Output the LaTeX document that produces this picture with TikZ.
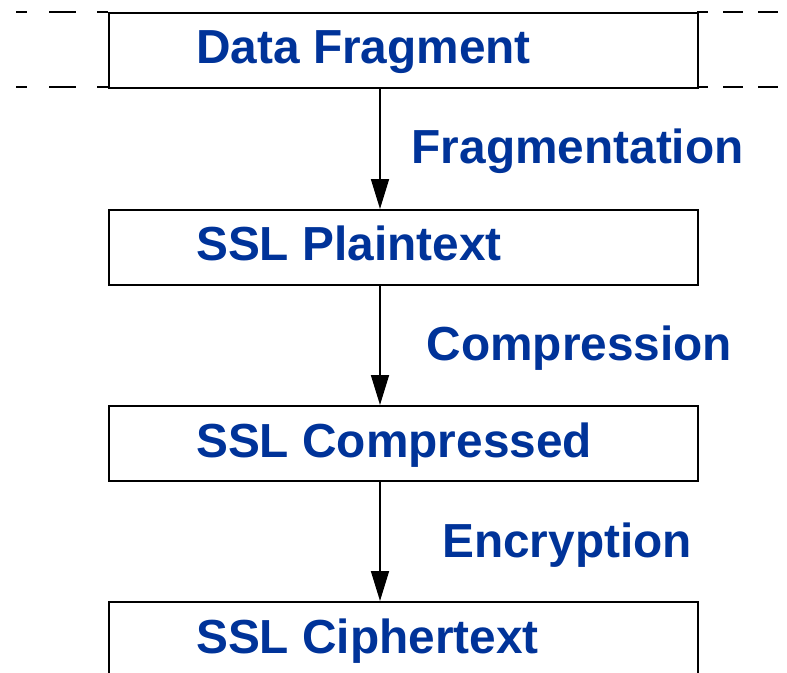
\documentclass[tikz,border=0pt]{standalone}
\usepackage{fontspec}
\setmainfont{Liberation Sans}
\usetikzlibrary{arrows.meta}
\definecolor{lblue}{RGB}{0,51,153}
\begin{document}
\begin{tikzpicture}[x=1pt,y=-1pt,
  stage/.style={draw=black, line width=1.7pt, minimum width=589pt, minimum height=75pt, inner sep=0pt, anchor=north west},
  lbl/.style={text=lblue, font=\fontsize{47.8}{50}\selectfont\bfseries, inner sep=0pt, anchor=base west},
  arr/.style={line width=1.7pt, -{Triangle[length=30pt,width=18pt]}},
  ext/.style={line width=1.7pt}]
\useasboundingbox (0,0) rectangle (787,672);
\clip (0,0) rectangle (787,672);
\node[stage] (b1) at (108,12) {};
\node[stage] (b2) at (108,209) {};
\node[stage] (b3) at (108,405) {};
\node[stage] (b4) at (108,601) {};
% dashed extensions of the first box
\foreach \yy in {12,87}{
  \draw[ext] (16,\yy) -- (27,\yy);
  \draw[ext] (49,\yy) -- (76,\yy);
  \draw[ext] (97,\yy) -- (108,\yy);
  \draw[ext] (697,\yy) -- (708,\yy);
  \draw[ext] (723,\yy) -- (743,\yy);
  \draw[ext] (758,\yy) -- (778,\yy);
}
\coordinate (ax) at (380,0);
\draw[arr] (b1.south -| ax) -- (b2.north -| ax);
\draw[arr] (b2.south -| ax) -- (b3.north -| ax);
\draw[arr] (b3.south -| ax) -- (b4.north -| ax);
\node[lbl] (t1) at (196,63) {Data Fragment};
\node[lbl] (t2) at (196,260) {SSL Plaintext};
\node[lbl] (t3) at (196,457) {SSL Compressed};
\node[lbl] (t4) at (196,653) {SSL Ciphertext};
\node[lbl] (l1) at (411.5,163) {Fragmentation};
\node[lbl] (l2) at (426.5,360) {Compression};
\node[lbl] (l3) at (442,557) {Encryption};
\end{tikzpicture}
\end{document}
